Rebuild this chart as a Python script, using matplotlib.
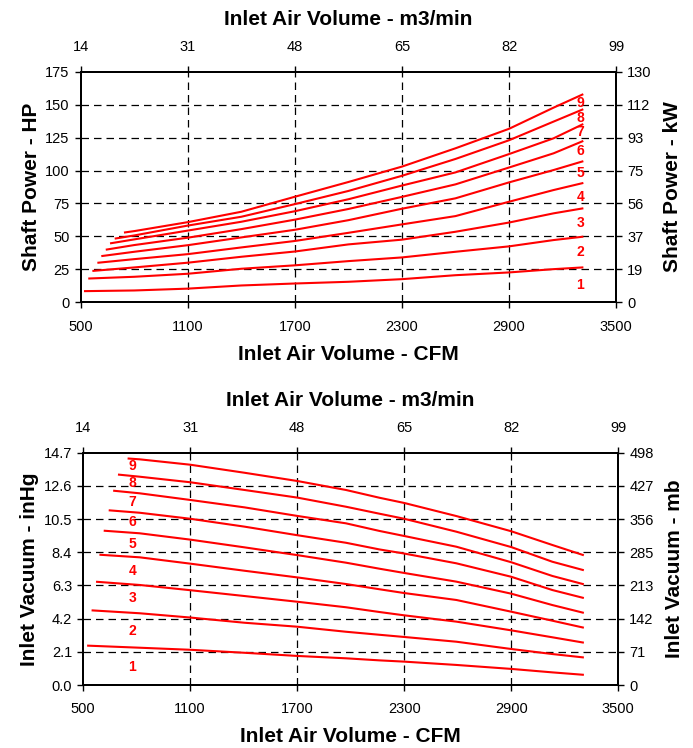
import matplotlib
matplotlib.use("Agg")
import matplotlib.pyplot as plt

FAM = ['Liberation Sans', 'DejaVu Sans']
plt.rcParams['font.family'] = FAM

# ---------------- data ----------------
curve_ids = ["1", "2", "3", "4", "5", "6", "7", "8", "9"]

# Shaft power (HP) vs inlet air volume (CFM)
hp_x_common = [800, 1100, 1400, 1700, 2000, 2300, 2600, 2900, 3150, 3311]
hp_start_x = [524, 548, 571, 599, 621, 646, 670, 696, 748]
hp_vals = [
    [8.4, 8.9, 10.3, 12.7, 14.2, 15.5, 17.5, 20.5, 22.6, 25.1, 26.4],
    [18.0, 19.3, 21.6, 25.4, 28.0, 31.2, 34.0, 38.3, 42.4, 47.2, 49.7],
    [23.8, 26.4, 30.0, 34.5, 38.5, 43.9, 47.5, 53.5, 60.5, 67.5, 71.2],
    [30.0, 32.7, 36.5, 41.6, 46.5, 52.7, 59.1, 65.4, 76.3, 85.2, 90.4],
    [35.1, 38.3, 43.3, 49.2, 55.0, 62.3, 71.0, 78.9, 91.0, 100.4, 106.9],
    [40.0, 43.4, 49.0, 55.5, 62.7, 70.8, 80.0, 89.5, 102.3, 113.1, 122.2],
    [44.8, 47.7, 54.4, 61.1, 69.1, 78.2, 88.6, 98.6, 112.5, 124.5, 135.0],
    [48.4, 50.7, 58.2, 64.9, 74.5, 84.5, 96.0, 108.8, 123.0, 137.2, 146.3],
    [53.0, 54.0, 60.8, 68.7, 80.1, 91.3, 103.0, 116.9, 131.7, 147.8, 157.7],
]
hp_label_y = [12.9, 37.8, 60.3, 80.1, 97.9, 115.0, 129.0, 140.2, 151.4]

# Inlet vacuum (inHg) vs inlet air volume (CFM)
vac_x_common = [817, 1100, 1405, 1700, 1974, 2161, 2300, 2593, 2900, 3131, 3302]
vac_start_x = [528, 553, 578, 597, 621, 649, 674, 701, 755]
vac_vals = [
    [2.49, 2.36, 2.23, 2.04, 1.84, 1.69, 1.56, 1.48, 1.27, 1.02, 0.80, 0.65],
    [4.72, 4.54, 4.27, 3.94, 3.69, 3.37, 3.18, 3.04, 2.74, 2.28, 1.96, 1.75],
    [6.53, 6.33, 6.00, 5.63, 5.27, 4.92, 4.62, 4.41, 4.01, 3.46, 3.02, 2.69],
    [8.24, 8.08, 7.68, 7.23, 6.81, 6.39, 6.06, 5.82, 5.38, 4.64, 4.07, 3.64],
    [9.76, 9.60, 9.20, 8.71, 8.22, 7.74, 7.36, 7.09, 6.54, 5.78, 5.06, 4.58],
    [11.05, 10.90, 10.52, 10.02, 9.48, 9.00, 8.58, 8.32, 7.70, 6.85, 6.01, 5.52],
    [12.29, 12.13, 11.71, 11.24, 10.70, 10.23, 9.75, 9.43, 8.75, 7.77, 6.90, 6.39],
    [13.31, 13.18, 12.83, 12.34, 11.86, 11.28, 10.84, 10.52, 9.70, 8.73, 7.80, 7.28],
    [14.33, 14.28, 13.94, 13.43, 12.91, 12.34, 11.85, 11.52, 10.69, 9.73, 8.86, 8.23],
]
vac_label_y = [1.16, 3.4, 5.5, 7.2, 8.9, 10.3, 11.6, 12.8, 13.86]

cfm_ticks = [500, 1100, 1700, 2300, 2900, 3500]
m3_labels = ["14", "31", "48", "65", "82", "99"]
hp_ticks = [0, 25, 50, 75, 100, 125, 150, 175]
kw_labels = ["0", "19", "37", "56", "75", "93", "112", "130"]
inhg_ticks = [0.0, 2.1, 4.2, 6.3, 8.4, 10.5, 12.6, 14.7]
inhg_labels = ["0.0", "2.1", "4.2", "6.3", "8.4", "10.5", "12.6", "14.7"]
mb_labels = ["0", "71", "142", "213", "285", "356", "427", "498"]

hp_label_x = 3300
vac_label_x = 776

# ---------------- drawing ----------------
RED = "#ff0000"
TICK_FS = 10.5
LAB_FS = 15
fig = plt.figure(figsize=(6.93, 7.48), dpi=100)

def lab(fn, text, pad):
    fn(text, fontsize=LAB_FS, fontweight='bold', labelpad=pad)

def setup(ax, yticks, ylabels, rlabels, ylim, ylabel, rlabel):
    ax.set_xlim(500, 3500)
    ax.set_ylim(*ylim)
    ax.set_xticks(cfm_ticks)
    ax.set_xticklabels([str(t) for t in cfm_ticks], fontsize=TICK_FS)
    ax.set_yticks(yticks)
    ax.set_yticklabels(ylabels, fontsize=TICK_FS)
    ax.tick_params(axis='x', direction='out', length=4, width=1, pad=8.5)
    ax.tick_params(axis='y', direction='out', length=4, width=1, pad=4)
    for g in cfm_ticks[1:-1]:
        ax.axvline(g, color='black', lw=0.9, ls=(0, (6, 4)), zorder=1)
    for g in yticks[1:-1]:
        ax.axhline(g, color='black', lw=0.9, ls=(0, (6, 4)), zorder=1)
    lab(ax.set_xlabel, "Inlet Air Volume - CFM", 8)
    lab(ax.set_ylabel, ylabel, 3)
    top = ax.twiny()
    top.set_xlim(ax.get_xlim())
    top.set_xticks(cfm_ticks)
    top.set_xticklabels(m3_labels, fontsize=TICK_FS)
    top.tick_params(direction='out', length=4, width=1, pad=8.5)
    lab(top.set_xlabel, "Inlet Air Volume - m3/min", 11)
    right = ax.twinx()
    right.set_ylim(ax.get_ylim())
    right.set_yticks(yticks)
    right.set_yticklabels(rlabels, fontsize=TICK_FS)
    right.tick_params(direction='out', length=4, width=1, pad=4)
    lab(right.set_ylabel, rlabel, 8)
    for a in (ax, top, right):
        for s in a.spines.values():
            s.set_linewidth(1.3)
            s.set_color('black')
    return top, right

ax1 = fig.add_axes([0.1165, 0.596, 0.7725, 0.308])
setup(ax1, hp_ticks, [str(t) for t in hp_ticks], kw_labels, (0, 175),
      "Shaft Power - HP", "Shaft Power - kW")
for sx, ys in zip(hp_start_x, hp_vals):
    ax1.plot([sx] + hp_x_common, ys, color=RED, lw=1.5, zorder=3)
for cid, ly in zip(curve_ids, hp_label_y):
    ax1.text(hp_label_x, ly, cid, color=RED, fontsize=10, fontweight='bold',
             ha='center', va='center', zorder=4)

ax2 = fig.add_axes([0.120, 0.0842, 0.772, 0.3106])
setup(ax2, inhg_ticks, inhg_labels, mb_labels, (0, 14.7),
      "Inlet Vacuum - inHg", "Inlet Vacuum - mb")
for sx, ys in zip(vac_start_x, vac_vals):
    ax2.plot([sx] + vac_x_common, ys, color=RED, lw=1.5, zorder=3)
for cid, ly in zip(curve_ids, vac_label_y):
    ax2.text(vac_label_x, ly, cid, color=RED, fontsize=10, fontweight='bold',
             ha='center', va='center', zorder=4)

fig.savefig("out.png", dpi=100)
